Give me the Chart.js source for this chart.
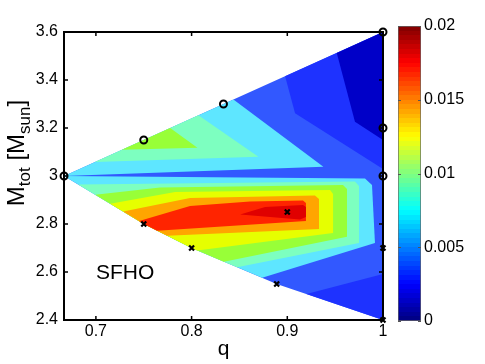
<!DOCTYPE html>
<html lang="en">
<head>
<meta charset="UTF-8">
<title>SFHO contour</title>
<script src="https://cdn.jsdelivr.net/npm/chart.js@4.4.0/dist/chart.umd.min.js"></script>
<style>
    body { margin: 0; background: #fff; }
    #wrap { position: relative; width: 485px; height: 364px; }
    #main { position: absolute; left: 0; top: 0; }
    #cbar { position: absolute; left: 390px; top: 0; }
</style>
</head>
<body>
<div id="wrap">
    <canvas id="main" width="485" height="364"></canvas>
    <canvas id="cbar" width="95" height="364"></canvas>
</div>
<script>
    // axes
    const qRange = [2 / 3, 1];
    const mRange = [2.4, 3.6];
    const qTicks = [0.7, 0.8, 0.9, 1];
    const mTicks = [2.4, 2.6, 2.8, 3, 3.2, 3.4, 3.6];
    const cbRange = [0, 0.02];
    const cbTicks = [0, 0.005, 0.01, 0.015, 0.02];

    // simulated binaries
    const circleQ = [0.6667, 0.75, 0.8333, 1, 1, 1];
    const circleM = [3.0, 3.15, 3.3, 3.6, 3.2, 3.0];
    const crossQ = [0.75, 0.8, 0.8889, 0.9, 1, 1];
    const crossM = [2.8, 2.7, 2.55, 2.85, 2.7, 2.4];

    // lower bound of each filled contour band
    const bandLevels = [0, 0.002, 0.004, 0.006, 0.008, 0.01, 0.012, 0.014, 0.016, 0.018];

    // outlines [q, M] of the regions above a band level
    const domainEdge = [[0.6667, 3.0], [0.75, 3.15], [0.8333, 3.3], [1, 3.6], [1, 3.2], [1, 3.0], [1, 2.7], [1, 2.4], [0.8889, 2.55], [0.8, 2.7], [0.75, 2.8]];
    const upperBand1 = [[0.8977, 3.416], [0.9081, 3.261], [1, 3.029], [1, 3.6]];
    const lowerBand1 = [[0.9200, 2.508], [1, 2.592], [1, 2.4]];
    const upperBand0 = [[0.9517, 3.513], [0.9707, 3.226], [1, 3.15], [1, 3.6]];
    const upperBand3 = [[0.6667, 3.0], [0.8437, 3.319], [0.9377, 3.039]];
    const upperBand4 = [[0.6989, 3.058], [0.8071, 3.253], [0.8698, 3.080]];
    const upperBand5 = [[0.7272, 3.109], [0.7776, 3.200], [0.8061, 3.118]];
    const lowerBand3 = [[0.6667, 3.0], [0.9812, 2.990], [0.9885, 2.963], [0.9916, 2.721], [0.8737, 2.576], [0.8, 2.7], [0.75, 2.8]];
    const lowerBand4 = [[0.6815, 2.965], [0.9707, 2.977], [0.9749, 2.958], [0.9749, 2.721], [0.8475, 2.620], [0.8, 2.7], [0.75, 2.8]];
    const lowerBand5 = [[0.6993, 2.922], [0.7671, 2.952], [0.9582, 2.963], [0.9624, 2.946], [0.9624, 2.747], [0.8337, 2.643], [0.8, 2.7], [0.75, 2.8]];
    const lowerBand6 = [[0.7149, 2.884], [0.7828, 2.933], [0.9447, 2.942], [0.9478, 2.925], [0.9478, 2.763], [0.8058, 2.690], [0.8, 2.7], [0.75, 2.8]];
    const lowerBand7 = [[0.7285, 2.852], [0.7984, 2.908], [0.9289, 2.919], [0.9331, 2.904], [0.9331, 2.779], [0.7745, 2.751], [0.75, 2.8]];
    const lowerBand8 = [[0.7452, 2.812], [0.7984, 2.875], [0.8611, 2.894], [0.9164, 2.898], [0.9195, 2.888], [0.9195, 2.813], [0.7640, 2.772], [0.75, 2.8]];
    const lowerBand9 = [[0.8507, 2.840], [0.8768, 2.871], [0.9164, 2.879], [0.9195, 2.871], [0.9195, 2.829], [0.9133, 2.819]];

    // painting order: [outline, band index]
    const regions = [
        [domainEdge, 2], [upperBand1, 1], [lowerBand1, 1], [upperBand0, 0],
        [upperBand3, 3], [upperBand4, 4], [upperBand5, 5],
        [lowerBand3, 3], [lowerBand4, 4], [lowerBand5, 5], [lowerBand6, 6],
        [lowerBand7, 7], [lowerBand8, 8], [lowerBand9, 9]
    ];
    const bandColors = ['#0000c8', '#1e32ff', '#3258ff', '#5ee6ff', '#7dffc0', '#98ff38', '#e6ff00', '#ffa500', '#ff2400', '#e00000'];

    const FONT = "'Liberation Sans', Arial, sans-serif";

    function jet(t) {
        const c = v => Math.round(255 * Math.max(0, Math.min(1, v)));
        return 'rgb(' + c(1.5 - Math.abs(4 * t - 3)) + ',' + c(1.5 - Math.abs(4 * t - 2)) + ',' + c(1.5 - Math.abs(4 * t - 1)) + ')';
    }

    const contourFill = {
        id: 'contourFill',
        beforeDatasetsDraw(chart) {
            const { ctx, chartArea: a, scales: { x, y } } = chart;
            ctx.save();
            regions.forEach(([pts, band]) => {
                ctx.beginPath();
                pts.forEach(([q, m], i) => {
                    const px = x.getPixelForValue(q), py = y.getPixelForValue(m);
                    if (i === 0) ctx.moveTo(px, py); else ctx.lineTo(px, py);
                });
                ctx.closePath();
                ctx.fillStyle = bandColors[band];
                ctx.fill();
            });

            // box and inward ticks
            ctx.strokeStyle = '#000';
            ctx.lineWidth = 2;
            ctx.strokeRect(a.left, a.top, a.right - a.left, a.bottom - a.top);
            ctx.lineWidth = 1.5;
            ctx.beginPath();
            qTicks.forEach(v => {
                const px = x.getPixelForValue(v);
                ctx.moveTo(px, a.bottom); ctx.lineTo(px, a.bottom - 4);
                ctx.moveTo(px, a.top); ctx.lineTo(px, a.top + 4);
            });
            mTicks.forEach(v => {
                const py = y.getPixelForValue(v);
                ctx.moveTo(a.left, py); ctx.lineTo(a.left + 4, py);
                ctx.moveTo(a.right, py); ctx.lineTo(a.right - 4, py);
            });
            ctx.stroke();
            ctx.restore();
        },
        afterDraw(chart) {
            const { ctx, chartArea: a } = chart;
            ctx.save();
            ctx.fillStyle = '#000';
            ctx.textBaseline = 'alphabetic';

            // x label
            ctx.font = '21px ' + FONT;
            ctx.textAlign = 'center';
            ctx.fillText('q', (a.left + a.right) / 2, 355);

            // y label with subscripts
            const parts = [['M', 24, 0], ['tot', 17, 6], [' [M', 24, 0], ['sun', 17, 6], [']', 24, 0]];
            let total = 0;
            parts.forEach(p => { ctx.font = p[1] + 'px ' + FONT; total += ctx.measureText(p[0]).width; });
            ctx.translate(24, 153);
            ctx.rotate(-Math.PI / 2);
            ctx.textAlign = 'left';
            let cx = -total / 2;
            parts.forEach(p => {
                ctx.font = p[1] + 'px ' + FONT;
                ctx.fillText(p[0], cx, p[2]);
                cx += ctx.measureText(p[0]).width;
            });
            ctx.setTransform(1, 0, 0, 1, 0, 0);

            // EOS name
            ctx.font = '21px ' + FONT;
            ctx.textAlign = 'left';
            ctx.fillText('SFHO', 96, 279);
            ctx.restore();
        }
    };

    new Chart(document.getElementById('main'), {
        type: 'scatter',
        data: {
            datasets: [
                {
                    data: circleQ.map((q, i) => ({ x: q, y: circleM[i] })),
                    pointStyle: 'circle', pointRadius: 3.5, borderWidth: 2,
                    borderColor: '#000', backgroundColor: 'rgba(0,0,0,0)', clip: false
                },
                {
                    data: crossQ.map((q, i) => ({ x: q, y: crossM[i] })),
                    pointStyle: 'crossRot', pointRadius: 3.5, borderWidth: 2.2,
                    borderColor: '#000', backgroundColor: '#000', clip: false
                }
            ]
        },
        options: {
            responsive: false,
            animation: false,
            events: [],
            layout: { padding: { top: 32, right: 102, left: 0, bottom: 0 } },
            plugins: { legend: { display: false }, tooltip: { enabled: false } },
            scales: {
                x: {
                    type: 'linear', min: qRange[0], max: qRange[1],
                    afterBuildTicks: s => { s.ticks = qTicks.map(v => ({ value: v })); },
                    afterFit: s => { s.height = 44; },
                    grid: { display: false, drawTicks: false },
                    border: { display: false },
                    ticks: { color: '#000', font: { family: FONT, size: 16 }, padding: 2, maxRotation: 0, callback: v => String(v) }
                },
                y: {
                    type: 'linear', min: mRange[0], max: mRange[1],
                    afterBuildTicks: s => { s.ticks = mTicks.map(v => ({ value: v })); },
                    afterFit: s => { s.width = 64; },
                    grid: { display: false, drawTicks: false },
                    border: { display: false },
                    ticks: { color: '#000', font: { family: FONT, size: 16 }, padding: 6, callback: v => String(v) }
                }
            }
        },
        plugins: [contourFill]
    });

    // colorbar
    const cbTickMarks = {
        id: 'cbTickMarks',
        afterDatasetsDraw(chart) {
            const { ctx, chartArea: a, scales: { y } } = chart;
            ctx.save();
            ctx.strokeStyle = '#555';
            ctx.lineWidth = 1;
            ctx.beginPath();
            cbTicks.forEach(v => {
                const py = Math.round(y.getPixelForValue(v)) + 0.5;
                ctx.moveTo(a.left, py); ctx.lineTo(a.left + 3, py);
                ctx.moveTo(a.right, py); ctx.lineTo(a.right - 3, py);
            });
            ctx.stroke();
            ctx.restore();
        }
    };

    new Chart(document.getElementById('cbar'), {
        type: 'bar',
        data: {
            labels: [''],
            datasets: [{
                data: [[cbRange[0], cbRange[1]]],
                backgroundColor: c => {
                    const a = c.chart.chartArea;
                    if (!a) return '#00f';
                    const g = c.chart.ctx.createLinearGradient(0, a.bottom, 0, a.top);
                    for (let i = 0; i < 64; i++) {
                        const col = jet((i + 0.5) / 64);
                        g.addColorStop(i / 64, col);
                        g.addColorStop((i + 1) / 64, col);
                    }
                    return g;
                },
                borderColor: '#666',
                borderWidth: 1,
                borderSkipped: false,
                barPercentage: 1,
                categoryPercentage: 1
            }]
        },
        options: {
            responsive: false,
            animation: false,
            events: [],
            layout: { padding: { top: 26, left: 8, right: 0, bottom: 43 } },
            plugins: { legend: { display: false }, tooltip: { enabled: false } },
            scales: {
                x: { display: false },
                y: {
                    position: 'right', min: cbRange[0], max: cbRange[1],
                    afterBuildTicks: s => { s.ticks = cbTicks.map(v => ({ value: v })); },
                    afterFit: s => { s.width = 64; },
                    grid: { display: false, drawTicks: false },
                    border: { display: false },
                    ticks: { color: '#000', font: { family: FONT, size: 16 }, padding: 3, callback: v => String(v) }
                }
            }
        },
        plugins: [cbTickMarks]
    });
</script>
</body>
</html>
